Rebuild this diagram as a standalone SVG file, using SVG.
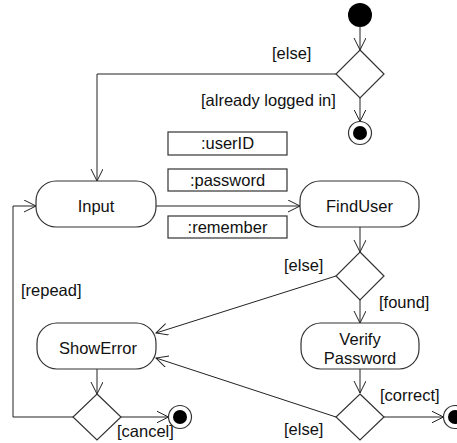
<svg xmlns="http://www.w3.org/2000/svg" width="457" height="443" viewBox="0 0 457 443">
<defs>
<marker id="arr" markerWidth="14" markerHeight="14" refX="12" refY="6" orient="auto" markerUnits="userSpaceOnUse">
<path d="M0,0 L12,6 L0,12" fill="none" stroke="#222" stroke-width="1"/>
</marker>
</defs>
<style>
.n{fill:#fff;stroke:#333;stroke-width:1.2}
.c{fill:none;stroke:#222;stroke-width:1;marker-end:url(#arr)}
text{font-family:"Liberation Sans",Arial,sans-serif;font-size:16.5px;fill:#111}
.m{text-anchor:middle}
</style>
<rect width="457" height="443" fill="#fff"/>
<g id="connectors">
<line class="c" x1="360" y1="27" x2="360" y2="50"/>
<line class="c" x1="360" y1="98" x2="360" y2="121.5"/>
<polyline class="c" points="336,74 97,74 97,181"/>
<line class="c" x1="156" y1="206" x2="300" y2="206"/>
<line class="c" x1="360" y1="227" x2="360" y2="252"/>
<line class="c" x1="336" y1="276" x2="156" y2="333"/>
<line class="c" x1="360" y1="300" x2="360" y2="323"/>
<line class="c" x1="360" y1="369" x2="360" y2="393"/>
<line class="c" x1="336" y1="417" x2="156" y2="358"/>
<line class="c" x1="384" y1="417" x2="443.5" y2="417"/>
<line class="c" x1="97" y1="369" x2="97" y2="394"/>
<polyline class="c" points="73,417 13,417 13,206 36,206"/>
<line class="c" x1="121" y1="417" x2="168.5" y2="417"/>
<text x="272" y="59">[else]</text>
<text x="201" y="106">[already logged in]</text>
<text x="284" y="271">[else]</text>
<text x="379" y="308">[found]</text>
<text x="21" y="296">[repead]</text>
<text x="117" y="437">[cancel]</text>
<text x="380" y="401">[correct]</text>
<text x="284" y="435">[else]</text>
</g>
<g id="start"><circle cx="360" cy="15" r="12" fill="#000"/></g>
<g id="dec1"><polygon class="n" points="360,50 384,74 360,98 336,74"/></g>
<g id="end1"><circle class="n" cx="360" cy="133" r="11.5"/><circle cx="360" cy="133" r="7" fill="#000"/></g>
<g id="userID"><rect class="n" x="168" y="132" width="119" height="23"/><text class="m" x="227.5" y="149">:userID</text></g>
<g id="password"><rect class="n" x="168" y="169" width="119" height="22"/><text class="m" x="227.5" y="186">:password</text></g>
<g id="remember"><rect class="n" x="168" y="216" width="119" height="22"/><text class="m" x="227.5" y="233">:remember</text></g>
<g id="input"><rect class="n" x="36" y="181" width="120" height="46" rx="20"/><text class="m" x="96" y="212">Input</text></g>
<g id="finduser"><rect class="n" x="300" y="181" width="119" height="46" rx="20"/><text class="m" x="359.5" y="212">FindUser</text></g>
<g id="dec2"><polygon class="n" points="360,252 384,276 360,300 336,276"/></g>
<g id="showerror"><rect class="n" x="37" y="323" width="119" height="46" rx="20"/><text class="m" x="98" y="354">ShowError</text></g>
<g id="verify"><rect class="n" x="301" y="323" width="118" height="46" rx="20"/><text class="m" x="360" y="345">Verify</text><text class="m" x="360" y="364">Password</text></g>
<g id="dec3"><polygon class="n" points="97,394 121,417 97,440 73,417"/></g>
<g id="end2"><circle class="n" cx="180" cy="417" r="11.5"/><circle cx="180" cy="417" r="7" fill="#000"/></g>
<g id="dec4"><polygon class="n" points="360,394 384,417 360,440 336,417"/></g>
<g id="end3"><circle class="n" cx="455" cy="417" r="11.5"/><circle cx="455" cy="417" r="7" fill="#000"/></g>
</svg>
